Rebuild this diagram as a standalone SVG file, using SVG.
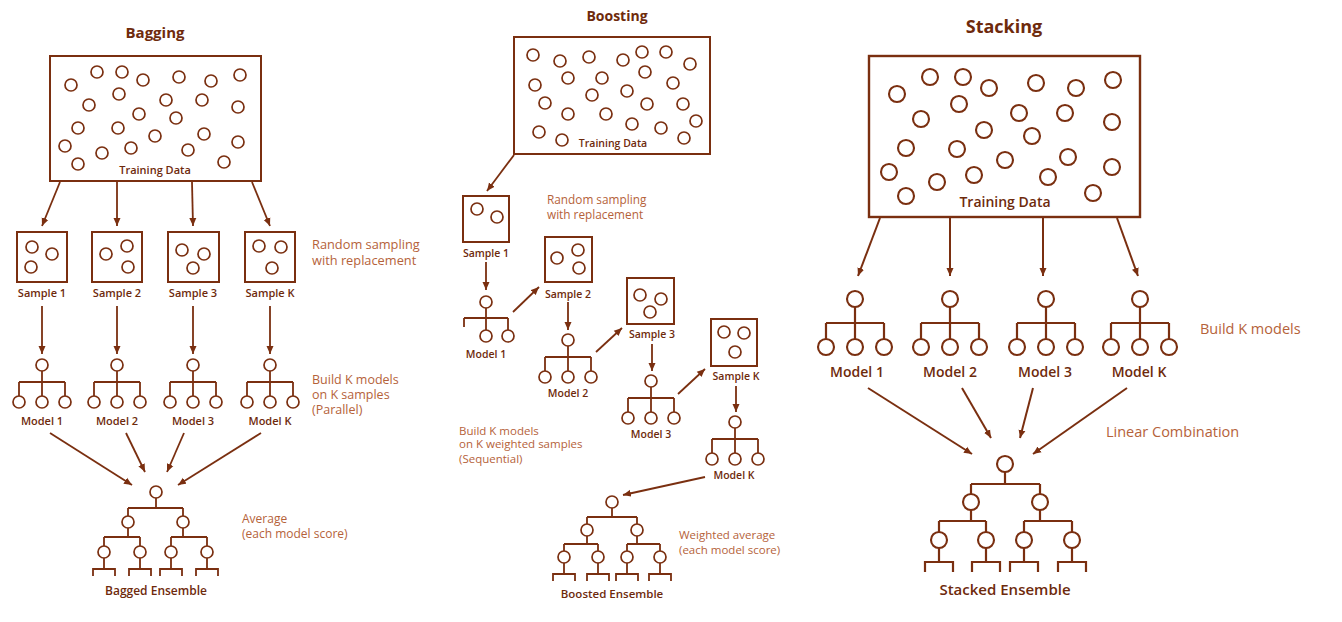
<svg xmlns="http://www.w3.org/2000/svg" xmlns:xlink="http://www.w3.org/1999/xlink" width="1342" height="622" viewBox="0 0 1342 622">
<style>
.ln{fill:none;stroke:#7a2f10;stroke-width:1.8;stroke-linecap:butt}
.lnS{fill:none;stroke:#7a2f10;stroke-width:2.2}
.c{fill:#fff;stroke:#7a2f10;stroke-width:1.7}
.cS{fill:#fff;stroke:#7a2f10;stroke-width:2.1}
.box{fill:#fff;stroke:#7a2f10;stroke-width:2}
.boxS{fill:#fff;stroke:#7a2f10;stroke-width:2.4}
.ar{fill:none;stroke:#7a2f10;stroke-width:1.8;marker-end:url(#ah)}
.arS{fill:none;stroke:#7a2f10;stroke-width:2;marker-end:url(#ah)}
text{font-family:"Open Sans","DejaVu Sans",sans-serif;fill:#6e2a0c}
.t{font-weight:700;text-anchor:middle}
.lb{font-weight:600;text-anchor:middle}
.d{fill:#b5623a;font-weight:400}
</style>
<defs>
<marker id="ah" markerUnits="userSpaceOnUse" markerWidth="9" markerHeight="8" refX="8" refY="4" orient="auto">
<path d="M0,0.5 L8,4 L0,7.5 z" fill="#7a2f10"/>
</marker>
<g id="tree3">
<path class="ln" d="M0,6 V17 M-23,17 H23 M-23,17 V31 M0,17 V31 M23,17 V31"/>
<circle class="c" cx="0" cy="0" r="6"/>
<circle class="c" cx="-23" cy="37" r="6"/>
<circle class="c" cx="0" cy="37" r="6"/>
<circle class="c" cx="23" cy="37" r="6"/>
</g>
<g id="tree3S">
<path class="lnS" d="M0,8 V24 M-29,24 H29 M-29,24 V40 M0,24 V40 M29,24 V40"/>
<circle class="cS" cx="0" cy="0" r="8"/>
<circle class="cS" cx="-29" cy="48" r="8"/>
<circle class="cS" cx="0" cy="48" r="8"/>
<circle class="cS" cx="29" cy="48" r="8"/>
</g>
<path id="brk" class="ln" d="M0,6 V17 M-11,24 V17 H11 V24"/>
<path id="brkS" class="lnS" d="M0,8 V22 M-14,32 V22 H14 V32"/>
</defs>

<rect width="1342" height="622" fill="#fff"/>

<!-- ================= BAGGING ================= -->
<text class="t" x="155" y="38" font-size="15">Bagging</text>

<g id="bag-training">
<rect class="box" x="50" y="56" width="211" height="125"/>
<g>
<circle class="c" cx="71" cy="85" r="6"/><circle class="c" cx="97" cy="72" r="6"/><circle class="c" cx="122" cy="72" r="6"/><circle class="c" cx="143" cy="80" r="6"/><circle class="c" cx="179" cy="77" r="6"/><circle class="c" cx="211" cy="81" r="6"/><circle class="c" cx="240" cy="75" r="6"/>
<circle class="c" cx="89" cy="105" r="6"/><circle class="c" cx="119" cy="94" r="6"/><circle class="c" cx="166" cy="100" r="6"/><circle class="c" cx="202" cy="100" r="6"/><circle class="c" cx="238" cy="107" r="6"/>
<circle class="c" cx="139" cy="114" r="6"/><circle class="c" cx="176" cy="118" r="6"/>
<circle class="c" cx="78" cy="128" r="6"/><circle class="c" cx="118" cy="128" r="6"/><circle class="c" cx="155" cy="136" r="6"/><circle class="c" cx="204" cy="134" r="6"/><circle class="c" cx="238" cy="142" r="6"/>
<circle class="c" cx="65" cy="146" r="6"/><circle class="c" cx="102" cy="153" r="6"/><circle class="c" cx="131" cy="148" r="6"/><circle class="c" cx="188" cy="150" r="6"/>
<circle class="c" cx="78" cy="164" r="6"/><circle class="c" cx="224" cy="162" r="6"/>
</g>
<text class="lb" x="155" y="174" font-size="11">Training Data</text>
</g>

<g id="bag-sample-1">
<rect class="box" x="17" y="232" width="50" height="50"/>
<circle class="c" cx="32" cy="247" r="6"/><circle class="c" cx="52" cy="254" r="6"/><circle class="c" cx="31" cy="267" r="6"/>
<text class="lb" x="42" y="297" font-size="11">Sample 1</text>
</g>
<g id="bag-sample-2">
<rect class="box" x="92" y="232" width="50" height="50"/>
<circle class="c" cx="106" cy="254" r="6"/><circle class="c" cx="127" cy="246" r="6"/><circle class="c" cx="128" cy="267" r="6"/>
<text class="lb" x="117" y="297" font-size="11">Sample 2</text>
</g>
<g id="bag-sample-3">
<rect class="box" x="168" y="232" width="51" height="50"/>
<circle class="c" cx="182" cy="250" r="6"/><circle class="c" cx="204" cy="254" r="6"/><circle class="c" cx="193" cy="268" r="6"/>
<text class="lb" x="193" y="297" font-size="11">Sample 3</text>
</g>
<g id="bag-sample-k">
<rect class="box" x="245" y="232" width="50" height="50"/>
<circle class="c" cx="259" cy="246" r="6"/><circle class="c" cx="281" cy="247" r="6"/><circle class="c" cx="272" cy="268" r="6"/>
<text class="lb" x="270" y="297" font-size="11">Sample K</text>
</g>

<g id="bag-model-1"><use xlink:href="#tree3" href="#tree3" x="42" y="365"/><text class="lb" x="42" y="425" font-size="11">Model 1</text></g>
<g id="bag-model-2"><use xlink:href="#tree3" href="#tree3" x="117" y="365"/><text class="lb" x="117" y="425" font-size="11">Model 2</text></g>
<g id="bag-model-3"><use xlink:href="#tree3" href="#tree3" x="193" y="365"/><text class="lb" x="193" y="425" font-size="11">Model 3</text></g>
<g id="bag-model-k"><use xlink:href="#tree3" href="#tree3" x="270" y="365"/><text class="lb" x="270" y="425" font-size="11">Model K</text></g>

<g id="bag-ensemble">
<path class="ln" d="M156,498 V508 M128,508 H183 M128,508 V516 M183,508 V516 M128,528 V537 M104,537 H140 M104,537 V546 M140,537 V546 M183,528 V537 M171,537 H207 M171,537 V546 M207,537 V546"/>
<circle class="c" cx="156" cy="492" r="6"/>
<circle class="c" cx="128" cy="522" r="6"/><circle class="c" cx="183" cy="522" r="6"/>
<circle class="c" cx="104" cy="552" r="6"/><circle class="c" cx="140" cy="552" r="6"/><circle class="c" cx="171" cy="552" r="6"/><circle class="c" cx="207" cy="552" r="6"/>
<use xlink:href="#brk" href="#brk" x="104" y="552"/><use xlink:href="#brk" href="#brk" x="140" y="552"/><use xlink:href="#brk" href="#brk" x="171" y="552"/><use xlink:href="#brk" href="#brk" x="207" y="552"/>
<text class="lb" x="156" y="595" font-size="12">Bagged Ensemble</text>
</g>

<g id="bag-notes">
<text class="d" x="312" y="249" font-size="12.8">Random sampling</text>
<text class="d" x="312" y="265" font-size="12.8">with replacement</text>
<text class="d" x="312" y="384" font-size="12.5">Build K models</text>
<text class="d" x="312" y="399" font-size="12.5">on K samples</text>
<text class="d" x="312" y="414" font-size="12.5">(Parallel)</text>
<text class="d" x="242" y="523" font-size="12">Average</text>
<text class="d" x="242" y="538" font-size="12">(each model score)</text>
</g>

<!-- ================= BOOSTING ================= -->
<text class="t" x="617" y="21" font-size="14">Boosting</text>

<g id="boost-training">
<rect class="box" x="514" y="37" width="196" height="117"/>
<g>
<circle class="c" cx="533" cy="55" r="6"/><circle class="c" cx="560" cy="61" r="6"/><circle class="c" cx="589" cy="57" r="6"/><circle class="c" cx="623" cy="60" r="6"/><circle class="c" cx="642" cy="52" r="6"/><circle class="c" cx="666" cy="52" r="6"/><circle class="c" cx="690" cy="64" r="6"/>
<circle class="c" cx="535" cy="85" r="6"/><circle class="c" cx="568" cy="78" r="6"/><circle class="c" cx="602" cy="78" r="6"/><circle class="c" cx="645" cy="72" r="6"/><circle class="c" cx="673" cy="83" r="6"/>
<circle class="c" cx="592" cy="95" r="6"/><circle class="c" cx="627" cy="91" r="6"/>
<circle class="c" cx="545" cy="103" r="6"/><circle class="c" cx="647" cy="104" r="6"/><circle class="c" cx="683" cy="104" r="6"/>
<circle class="c" cx="568" cy="114" r="6"/><circle class="c" cx="606" cy="114" r="6"/><circle class="c" cx="632" cy="124" r="6"/><circle class="c" cx="661" cy="128" r="6"/><circle class="c" cx="696" cy="121" r="6"/>
<circle class="c" cx="539" cy="132" r="6"/><circle class="c" cx="562" cy="140" r="6"/><circle class="c" cx="684" cy="138" r="6"/>
</g>
<text class="lb" x="613" y="147" font-size="10.5">Training Data</text>
</g>

<g id="boost-sample-1">
<rect class="box" x="463" y="196" width="46" height="46"/>
<circle class="c" cx="477" cy="209" r="6"/><circle class="c" cx="497" cy="217" r="6"/>
<text class="lb" x="486" y="257" font-size="10.5">Sample 1</text>
</g>
<g id="boost-model-1">
<path class="ln" d="M486,308 V318 M464,318 H508 M464,318 V327 M486,318 V330 M508,318 V330"/>
<circle class="c" cx="486" cy="302" r="6"/>
<circle class="c" cx="486" cy="336" r="6"/><circle class="c" cx="508" cy="336" r="6"/>
<text class="lb" x="486" y="358" font-size="10.5">Model 1</text>
</g>
<g id="boost-sample-2">
<rect class="box" x="545" y="237" width="47" height="45"/>
<circle class="c" cx="557" cy="258" r="6"/><circle class="c" cx="578" cy="250" r="6"/><circle class="c" cx="579" cy="268" r="6"/>
<text class="lb" x="568" y="298" font-size="10.5">Sample 2</text>
</g>
<g id="boost-model-2"><use xlink:href="#tree3" href="#tree3" x="568" y="340"/><text class="lb" x="568" y="397" font-size="10.5">Model 2</text></g>
<g id="boost-sample-3">
<rect class="box" x="627" y="278" width="47" height="46"/>
<circle class="c" cx="640" cy="295" r="6"/><circle class="c" cx="661" cy="299" r="6"/><circle class="c" cx="650" cy="312" r="6"/>
<text class="lb" x="652" y="338" font-size="10.5">Sample 3</text>
</g>
<g id="boost-model-3"><use xlink:href="#tree3" href="#tree3" x="651" y="381"/><text class="lb" x="651" y="438" font-size="10.5">Model 3</text></g>
<g id="boost-sample-k">
<rect class="box" x="711" y="319" width="46" height="47"/>
<circle class="c" cx="724" cy="332" r="6"/><circle class="c" cx="744" cy="333" r="6"/><circle class="c" cx="735" cy="352" r="6"/>
<text class="lb" x="736" y="380" font-size="10.5">Sample K</text>
</g>
<g id="boost-model-k"><use xlink:href="#tree3" href="#tree3" x="735" y="422"/><text class="lb" x="734" y="479" font-size="10.5">Model K</text></g>

<g id="boost-ensemble">
<path class="ln" d="M612,508 V517 M587,517 H637 M587,517 V524 M637,517 V524 M587,536 V544 M564,544 H598 M564,544 V551 M598,544 V551 M637,536 V544 M627,544 H660 M627,544 V551 M660,544 V551"/>
<circle class="c" cx="612" cy="502" r="6"/>
<circle class="c" cx="587" cy="530" r="6"/><circle class="c" cx="637" cy="530" r="6"/>
<circle class="c" cx="564" cy="557" r="6"/><circle class="c" cx="598" cy="557" r="6"/><circle class="c" cx="627" cy="557" r="6"/><circle class="c" cx="660" cy="557" r="6"/>
<use xlink:href="#brk" href="#brk" x="564" y="557"/><use xlink:href="#brk" href="#brk" x="598" y="557"/><use xlink:href="#brk" href="#brk" x="627" y="557"/><use xlink:href="#brk" href="#brk" x="660" y="557"/>
<text class="lb" x="612" y="598" font-size="11.5">Boosted Ensemble</text>
</g>

<g id="boost-notes">
<text class="d" x="547" y="204" font-size="11.8">Random sampling</text>
<text class="d" x="547" y="219" font-size="11.8">with replacement</text>
<text class="d" x="459" y="435" font-size="11.5">Build K models</text>
<text class="d" x="459" y="448" font-size="11.5">on K weighted samples</text>
<text class="d" x="459" y="463" font-size="11.5">(Sequential)</text>
<text class="d" x="679" y="539" font-size="11.5">Weighted average</text>
<text class="d" x="679" y="554" font-size="11.5">(each model score)</text>
</g>

<!-- ================= STACKING ================= -->
<text class="t" x="1004" y="33" font-size="18">Stacking</text>

<g id="stack-training">
<rect class="boxS" x="869" y="56" width="271" height="161"/>
<g>
<circle class="cS" cx="897" cy="94" r="8"/><circle class="cS" cx="930" cy="77" r="8"/><circle class="cS" cx="963" cy="77" r="8"/><circle class="cS" cx="989" cy="88" r="8"/><circle class="cS" cx="1036" cy="83" r="8"/><circle class="cS" cx="1076" cy="88" r="8"/><circle class="cS" cx="1113" cy="80" r="8"/>
<circle class="cS" cx="921" cy="119" r="8"/><circle class="cS" cx="959" cy="104" r="8"/><circle class="cS" cx="1019" cy="113" r="8"/><circle class="cS" cx="1065" cy="113" r="8"/><circle class="cS" cx="1112" cy="122" r="8"/>
<circle class="cS" cx="984" cy="130" r="8"/><circle class="cS" cx="1032" cy="136" r="8"/>
<circle class="cS" cx="906" cy="148" r="8"/><circle class="cS" cx="957" cy="149" r="8"/><circle class="cS" cx="1005" cy="160" r="8"/><circle class="cS" cx="1068" cy="157" r="8"/><circle class="cS" cx="1112" cy="167" r="8"/>
<circle class="cS" cx="889" cy="172" r="8"/><circle class="cS" cx="937" cy="182" r="8"/><circle class="cS" cx="974" cy="175" r="8"/><circle class="cS" cx="1048" cy="177" r="8"/>
<circle class="cS" cx="906" cy="196" r="8"/><circle class="cS" cx="1093" cy="193" r="8"/>
</g>
<text class="lb" x="1005" y="207" font-size="14">Training Data</text>
</g>

<g id="stack-model-1"><use xlink:href="#tree3S" href="#tree3S" x="855" y="299"/><text class="lb" x="857" y="377" font-size="14">Model 1</text></g>
<g id="stack-model-2"><use xlink:href="#tree3S" href="#tree3S" x="950" y="299"/><text class="lb" x="950" y="377" font-size="14">Model 2</text></g>
<g id="stack-model-3"><use xlink:href="#tree3S" href="#tree3S" x="1046" y="299"/><text class="lb" x="1045" y="377" font-size="14">Model 3</text></g>
<g id="stack-model-k"><use xlink:href="#tree3S" href="#tree3S" x="1140" y="299"/><text class="lb" x="1139" y="377" font-size="14">Model K</text></g>

<g id="stack-ensemble">
<path class="lnS" d="M1005,472 V484 M971,484 H1040 M971,484 V494 M1040,484 V494 M971,510 V521 M939,521 H986 M939,521 V532 M986,521 V532 M1040,510 V521 M1024,521 H1072 M1024,521 V532 M1072,521 V532"/>
<circle class="cS" cx="1005" cy="464" r="8"/>
<circle class="cS" cx="971" cy="502" r="8"/><circle class="cS" cx="1040" cy="502" r="8"/>
<circle class="cS" cx="939" cy="540" r="8"/><circle class="cS" cx="986" cy="540" r="8"/><circle class="cS" cx="1024" cy="540" r="8"/><circle class="cS" cx="1072" cy="540" r="8"/>
<use xlink:href="#brkS" href="#brkS" x="939" y="540"/><use xlink:href="#brkS" href="#brkS" x="986" y="540"/><use xlink:href="#brkS" href="#brkS" x="1024" y="540"/><use xlink:href="#brkS" href="#brkS" x="1072" y="540"/>
<text class="lb" x="1005" y="595" font-size="15">Stacked Ensemble</text>
</g>

<g id="stack-notes">
<text class="d" x="1200" y="334" font-size="14.5">Build K models</text>
<text class="d" x="1106" y="437" font-size="14.5">Linear Combination</text>
</g>

<!-- ================= CONNECTORS ================= -->
<g id="connectors">
<path class="ar" d="M60,182 L42,226"/>
<path class="ar" d="M117,182 L117,226"/>
<path class="ar" d="M192,182 L193,226"/>
<path class="ar" d="M252,182 L270,226"/>
<path class="ar" d="M42,306 L42,354"/>
<path class="ar" d="M117,306 L117,354"/>
<path class="ar" d="M193,306 L193,354"/>
<path class="ar" d="M270,306 L270,354"/>
<path class="ar" d="M50,433 L132,485"/>
<path class="ar" d="M126,433 L145,472"/>
<path class="ar" d="M184,433 L167,472"/>
<path class="ar" d="M261,433 L178,485"/>

<path class="ar" d="M514,155 L487,191"/>
<path class="ar" d="M486,262 L486,290"/>
<path class="ar" d="M513,312 L539,287"/>
<path class="ar" d="M568,302 L568,330"/>
<path class="ar" d="M596,352 L622,328"/>
<path class="ar" d="M652,344 L652,371"/>
<path class="ar" d="M678,394 L705,369"/>
<path class="ar" d="M736,386 L736,412"/>
<path class="ar" d="M705,477 L623,495"/>

<path class="arS" d="M880,218 L858,276"/>
<path class="arS" d="M950,218 L950,276"/>
<path class="arS" d="M1043,218 L1043,276"/>
<path class="arS" d="M1117,218 L1138,276"/>
<path class="arS" d="M868,388 L972,454"/>
<path class="arS" d="M962,388 L991,438"/>
<path class="arS" d="M1033,388 L1020,438"/>
<path class="arS" d="M1127,388 L1033,454"/>
</g>
</svg>
